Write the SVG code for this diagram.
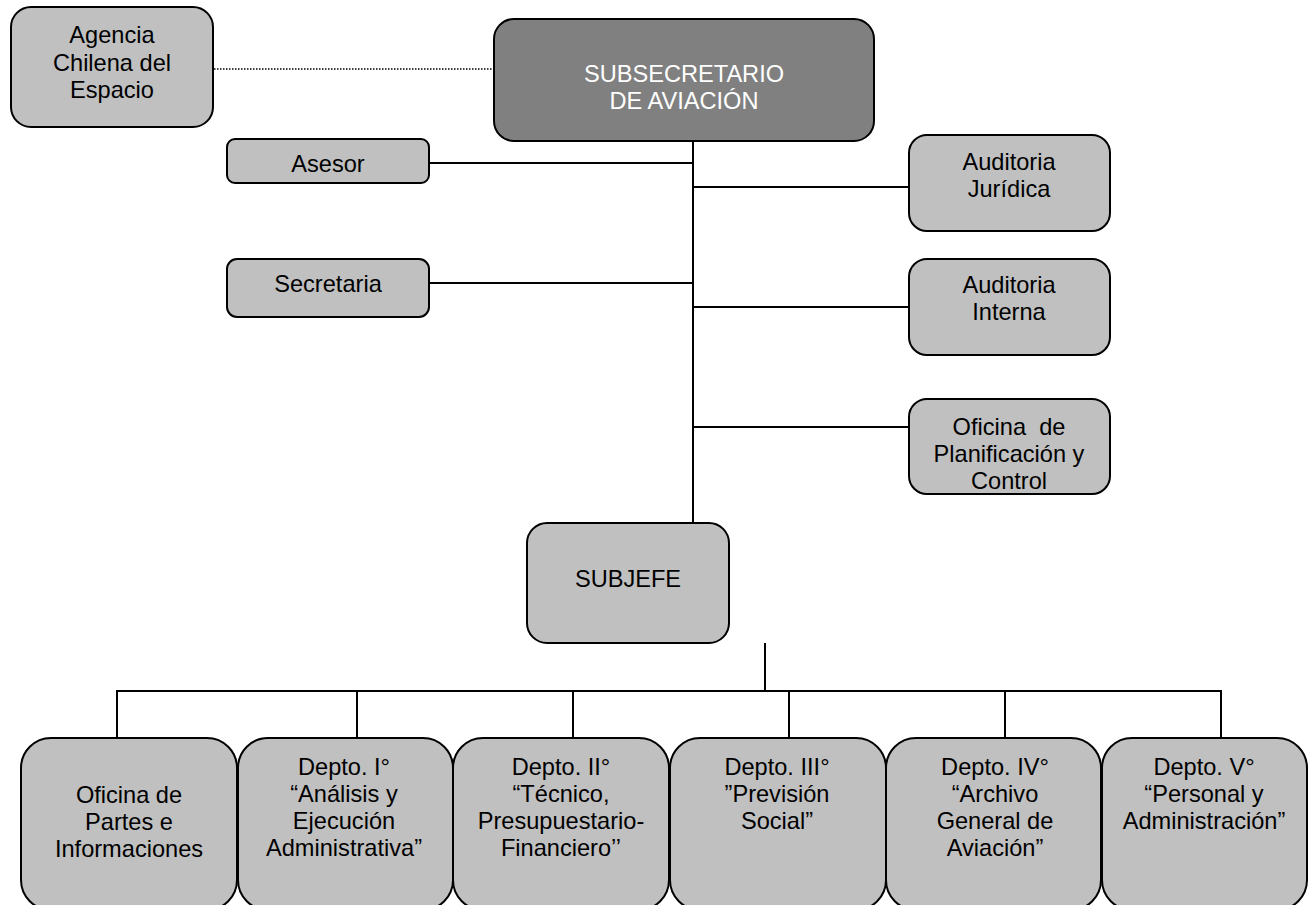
<svg xmlns="http://www.w3.org/2000/svg" width="1309" height="905" viewBox="0 0 1309 905">
<style>
.box{fill:#c0c0c0;stroke:#000;stroke-width:2}
.dark{fill:#808080;stroke:#000;stroke-width:2}
.t{font-family:"Liberation Sans",Arial,sans-serif;font-size:23.6px;fill:#000;text-anchor:middle}
.w{fill:#fff}
.ln{stroke:#000;stroke-width:2;fill:none}
.dot{stroke:#000;stroke-width:1.6;stroke-dasharray:1.5 1.5;fill:none}
</style>
<rect width="1309" height="905" fill="#fff"/>
<g id="connectors">
<line class="dot" x1="214" y1="69" x2="495" y2="69"/>
<line class="ln" x1="693" y1="141" x2="693" y2="523"/>
<line class="ln" x1="429" y1="163" x2="693" y2="163"/>
<line class="ln" x1="429" y1="283" x2="693" y2="283"/>
<line class="ln" x1="693" y1="187" x2="909" y2="187"/>
<line class="ln" x1="693" y1="307" x2="909" y2="307"/>
<line class="ln" x1="693" y1="427" x2="909" y2="427"/>
<line class="ln" x1="765" y1="643" x2="765" y2="691"/>
<polyline class="ln" points="117,738 117,691 1221,691 1221,738"/>
<line class="ln" x1="357" y1="691" x2="357" y2="738"/>
<line class="ln" x1="573" y1="691" x2="573" y2="738"/>
<line class="ln" x1="789" y1="691" x2="789" y2="738"/>
<line class="ln" x1="1005" y1="691" x2="1005" y2="738"/>
</g>
<g id="agencia">
<rect class="box" x="11" y="7" width="202" height="120" rx="20"/>
<text class="t" x="112" y="43">Agencia</text>
<text class="t" x="112" y="71">Chilena del</text>
<text class="t" x="112" y="98">Espacio</text>
</g>
<g id="subsecretario">
<rect class="dark" x="494" y="19" width="380" height="122" rx="20"/>
<text class="t w" x="684" y="82">SUBSECRETARIO</text>
<text class="t w" x="684" y="109">DE AVIACIÓN</text>
</g>
<g id="asesor">
<rect class="box" x="227" y="139" width="202" height="44" rx="8"/>
<text class="t" x="328" y="172">Asesor</text>
</g>
<g id="secretaria">
<rect class="box" x="227" y="259" width="202" height="58" rx="10"/>
<text class="t" x="328" y="292">Secretaria</text>
</g>
<g id="auditoria-juridica">
<rect class="box" x="909" y="135" width="201" height="96" rx="18"/>
<text class="t" x="1009" y="170">Auditoria</text>
<text class="t" x="1009" y="197">Jurídica</text>
</g>
<g id="auditoria-interna">
<rect class="box" x="909" y="259" width="201" height="96" rx="18"/>
<text class="t" x="1009" y="293">Auditoria</text>
<text class="t" x="1009" y="320">Interna</text>
</g>
<g id="planificacion">
<rect class="box" x="909" y="399" width="201" height="95" rx="18"/>
<text class="t" x="1009" y="435" xml:space="preserve">Oficina  de</text>
<text class="t" x="1009" y="462">Planificación y</text>
<text class="t" x="1009" y="489">Control</text>
</g>
<g id="subjefe">
<rect class="box" x="527" y="523" width="202" height="120" rx="20"/>
<text class="t" x="628" y="587">SUBJEFE</text>
</g>
<g id="oficina-partes">
<rect class="box" x="21" y="738" width="216" height="172" rx="30"/>
<text class="t" x="129" y="803">Oficina de</text>
<text class="t" x="129" y="830">Partes e</text>
<text class="t" x="129" y="857">Informaciones</text>
</g>
<g id="depto-1">
<rect class="box" x="238" y="738" width="215" height="172" rx="30"/>
<text class="t" x="344" y="775">Depto. I°</text>
<text class="t" x="344" y="802">“Análisis y</text>
<text class="t" x="344" y="829">Ejecución</text>
<text class="t" x="344" y="856">Administrativa”</text>
</g>
<g id="depto-2">
<rect class="box" x="453" y="738" width="216" height="172" rx="30"/>
<text class="t" x="561" y="775">Depto. II°</text>
<text class="t" x="561" y="802">“Técnico,</text>
<text class="t" x="561" y="829">Presupuestario-</text>
<text class="t" x="561" y="856">Financiero’’</text>
</g>
<g id="depto-3">
<rect class="box" x="670" y="738" width="216" height="172" rx="30"/>
<text class="t" x="777" y="775">Depto. III°</text>
<text class="t" x="777" y="802">”Previsión</text>
<text class="t" x="777" y="829">Social”</text>
</g>
<g id="depto-4">
<rect class="box" x="886" y="738" width="215" height="172" rx="30"/>
<text class="t" x="995" y="775">Depto. IV°</text>
<text class="t" x="995" y="802">“Archivo</text>
<text class="t" x="995" y="829">General de</text>
<text class="t" x="995" y="856">Aviación”</text>
</g>
<g id="depto-5">
<rect class="box" x="1102" y="738" width="205" height="172" rx="30"/>
<text class="t" x="1204" y="775">Depto. V°</text>
<text class="t" x="1204" y="802">“Personal y</text>
<text class="t" x="1204" y="829">Administración”</text>
</g>
</svg>
